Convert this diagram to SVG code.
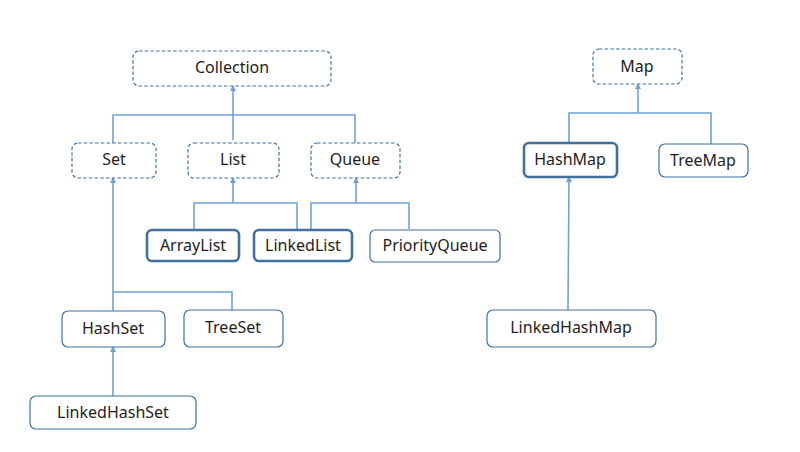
<svg xmlns="http://www.w3.org/2000/svg" width="800" height="452" viewBox="0 0 800 452">
<style>
.box{fill:#fff;stroke:#41719c;stroke-width:1.2}
.iface{fill:#fff;stroke:#41719c;stroke-width:1.2;stroke-dasharray:3.5 2.2}
.bold{fill:#fff;stroke:#41719c;stroke-width:2.6}
.lbl{font-family:"Noto Sans","Open Sans",sans-serif;font-size:16px;fill:#1e1e1e;text-anchor:middle;dominant-baseline:central}
.ln{fill:none;stroke:#6fa3d8;stroke-width:1.6}
</style>
<defs>
<marker id="ah" viewBox="0 0 6 6" refX="5" refY="3" markerWidth="4" markerHeight="4" orient="auto">
<path d="M0,0 L6,3 L0,6 z" fill="#6fa3d8"/>
</marker>
</defs>
<rect width="800" height="452" fill="#fff"/>
<g id="connectors">
<path class="ln" d="M233,140 V86" marker-end="url(#ah)"/>
<path class="ln" d="M113,143 V115 H355 V143"/>
<path class="ln" d="M113,311 V178" marker-end="url(#ah)"/>
<path class="ln" d="M113,292 H232 V310"/>
<path class="ln" d="M113,396 V347" marker-end="url(#ah)"/>
<path class="ln" d="M233,203 V178" marker-end="url(#ah)"/>
<path class="ln" d="M194,230 V203 H297 V230"/>
<path class="ln" d="M356,203 V178" marker-end="url(#ah)"/>
<path class="ln" d="M311,230 V203 H409 V229"/>
<path class="ln" d="M638,113 V84" marker-end="url(#ah)"/>
<path class="ln" d="M569,143 V113 H711 V144"/>
<path class="ln" d="M568,310 L569,177" marker-end="url(#ah)"/>
</g>
<g id="Collection"><rect class="iface" x="133" y="51" width="198" height="35" rx="6"/><text class="lbl" x="232" y="67">Collection</text></g>
<g id="Set"><rect class="iface" x="72" y="143" width="84" height="35" rx="6"/><text class="lbl" x="114" y="159">Set</text></g>
<g id="List"><rect class="iface" x="188" y="143" width="91" height="35" rx="6"/><text class="lbl" x="233" y="159">List</text></g>
<g id="Queue"><rect class="iface" x="311" y="143" width="89" height="35" rx="6"/><text class="lbl" x="355" y="159">Queue</text></g>
<g id="ArrayList"><rect class="bold" x="147" y="230" width="92" height="31" rx="5"/><text class="lbl" x="193" y="245">ArrayList</text></g>
<g id="LinkedList"><rect class="bold" x="254" y="230" width="98" height="31" rx="5"/><text class="lbl" x="303" y="245">LinkedList</text></g>
<g id="PriorityQueue"><rect class="box" x="370" y="230" width="130" height="32" rx="5"/><text class="lbl" x="435" y="245">PriorityQueue</text></g>
<g id="HashSet"><rect class="box" x="62" y="311" width="103" height="36" rx="6"/><text class="lbl" x="113" y="328">HashSet</text></g>
<g id="TreeSet"><rect class="box" x="184" y="310" width="99" height="37" rx="6"/><text class="lbl" x="233" y="327">TreeSet</text></g>
<g id="LinkedHashSet"><rect class="box" x="30" y="396" width="166" height="33" rx="6"/><text class="lbl" x="113" y="412">LinkedHashSet</text></g>
<g id="Map"><rect class="iface" x="593" y="49" width="89" height="35" rx="6"/><text class="lbl" x="637" y="66">Map</text></g>
<g id="HashMap"><rect class="bold" x="524" y="143" width="93" height="34" rx="5"/><text class="lbl" x="570" y="159">HashMap</text></g>
<g id="TreeMap"><rect class="box" x="659" y="144" width="89" height="33" rx="6"/><text class="lbl" x="703" y="160">TreeMap</text></g>
<g id="LinkedHashMap"><rect class="box" x="487" y="310" width="169" height="37" rx="6"/><text class="lbl" x="571" y="327">LinkedHashMap</text></g>
</svg>
